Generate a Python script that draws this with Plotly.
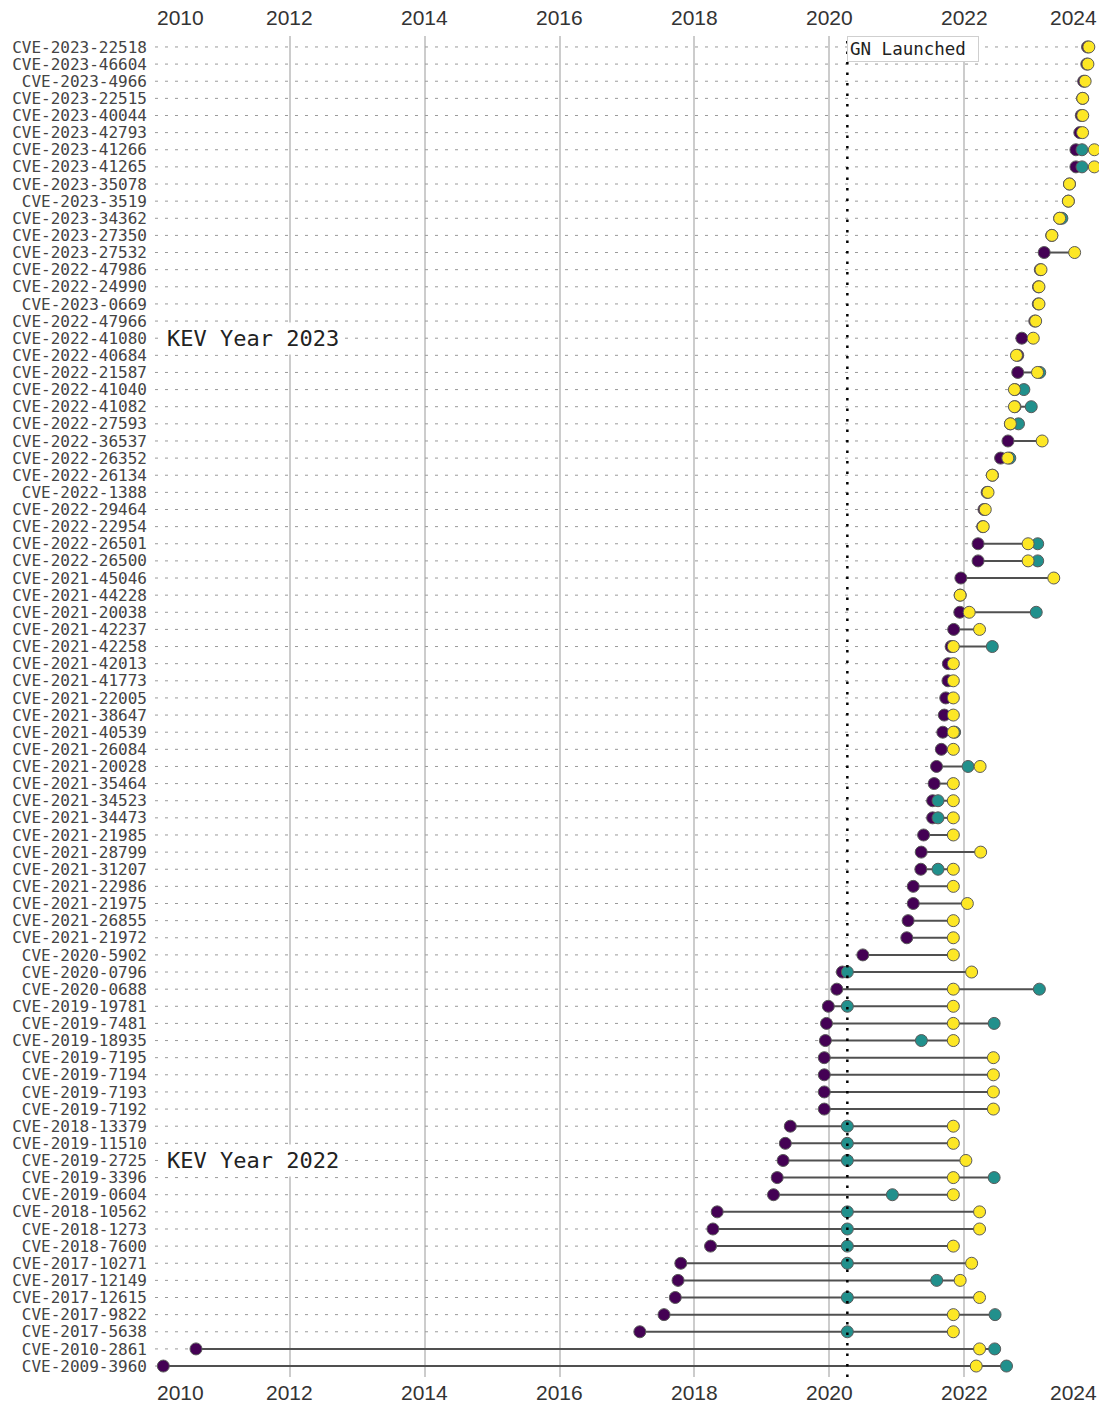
import plotly.graph_objects as go
import pandas as pd

# ---------------- data ----------------
cves = [
    "CVE-2023-22518", "CVE-2023-46604", "CVE-2023-4966", "CVE-2023-22515", "CVE-2023-40044",
    "CVE-2023-42793", "CVE-2023-41266", "CVE-2023-41265", "CVE-2023-35078", "CVE-2023-3519",
    "CVE-2023-34362", "CVE-2023-27350", "CVE-2023-27532", "CVE-2022-47986", "CVE-2022-24990",
    "CVE-2023-0669", "CVE-2022-47966", "CVE-2022-41080", "CVE-2022-40684", "CVE-2022-21587",
    "CVE-2022-41040", "CVE-2022-41082", "CVE-2022-27593", "CVE-2022-36537", "CVE-2022-26352",
    "CVE-2022-26134", "CVE-2022-1388", "CVE-2022-29464", "CVE-2022-22954", "CVE-2022-26501",
    "CVE-2022-26500", "CVE-2021-45046", "CVE-2021-44228", "CVE-2021-20038", "CVE-2021-42237",
    "CVE-2021-42258", "CVE-2021-42013", "CVE-2021-41773", "CVE-2021-22005", "CVE-2021-38647",
    "CVE-2021-40539", "CVE-2021-26084", "CVE-2021-20028", "CVE-2021-35464", "CVE-2021-34523",
    "CVE-2021-34473", "CVE-2021-21985", "CVE-2021-28799", "CVE-2021-31207", "CVE-2021-22986",
    "CVE-2021-21975", "CVE-2021-26855", "CVE-2021-21972", "CVE-2020-5902", "CVE-2020-0796",
    "CVE-2020-0688", "CVE-2019-19781", "CVE-2019-7481", "CVE-2019-18935", "CVE-2019-7195",
    "CVE-2019-7194", "CVE-2019-7193", "CVE-2019-7192", "CVE-2018-13379", "CVE-2019-11510",
    "CVE-2019-2725", "CVE-2019-3396", "CVE-2019-0604", "CVE-2018-10562", "CVE-2018-1273",
    "CVE-2018-7600", "CVE-2017-10271", "CVE-2017-12149", "CVE-2017-12615", "CVE-2017-9822",
    "CVE-2017-5638", "CVE-2010-2861", "CVE-2009-3960",
]

published = [
    "2023-10-31", "2023-10-27", "2023-10-10", "2023-10-04", "2023-09-27",
    "2023-09-19", "2023-08-29", "2023-08-29", "2023-07-25", "2023-07-19",
    "2023-06-02", "2023-04-20", "2023-03-10", "2023-02-17", "2023-02-07",
    "2023-02-06", "2023-01-18", "2022-11-09", "2022-10-18", "2022-10-18",
    "2022-10-03", "2022-10-03", "2022-09-08", "2022-08-26", "2022-07-17",
    "2022-06-03", "2022-05-05", "2022-04-18", "2022-04-11", "2022-03-17",
    "2022-03-17", "2021-12-14", "2021-12-10", "2021-12-08", "2021-11-05",
    "2021-10-22", "2021-10-07", "2021-10-05", "2021-09-23", "2021-09-15",
    "2021-09-07", "2021-08-30", "2021-08-04", "2021-07-22", "2021-07-14",
    "2021-07-14", "2021-05-26", "2021-05-13", "2021-05-11", "2021-03-31",
    "2021-03-31", "2021-03-03", "2021-02-24", "2020-07-01", "2020-03-12",
    "2020-02-11", "2019-12-27", "2019-12-17", "2019-12-11", "2019-12-05",
    "2019-12-05", "2019-12-05", "2019-12-05", "2019-06-04", "2019-05-08",
    "2019-04-26", "2019-03-25", "2019-03-05", "2018-05-04", "2018-04-11",
    "2018-03-29", "2017-10-19", "2017-10-04", "2017-09-19", "2017-07-20",
    "2017-03-11", "2010-08-11", "2010-02-15",
]

gn_tagged = [
    None, None, None, None, None,
    None, "2023-10-01", "2023-10-01", None, None,
    "2023-06-14", None, None, None, None,
    None, None, None, None, "2023-02-14",
    "2022-11-20", "2022-12-30", "2022-10-22", None, "2022-09-05",
    None, None, None, None, "2023-02-03",
    "2023-02-03", None, None, "2023-01-26", None,
    "2022-06-02", None, None, None, None,
    "2021-11-10", None, "2022-01-22", None, "2021-08-12",
    "2021-08-12", None, None, "2021-08-12", None,
    None, None, None, None, "2020-04-08",
    "2023-02-12", "2020-04-08", "2022-06-12", "2021-05-14", None,
    None, None, None, "2020-04-08", "2020-04-08",
    "2020-04-08", "2022-06-12", "2020-12-08", "2020-04-08", "2020-04-08",
    "2020-04-08", "2020-04-08", "2021-08-05", "2020-04-08", "2022-06-17",
    "2020-04-08", "2022-06-15", "2022-08-18",
]

kev_added = [
    "2023-11-07", "2023-11-02", "2023-10-18", "2023-10-05", "2023-10-05",
    "2023-10-04", "2023-12-07", "2023-12-07", "2023-07-25", "2023-07-19",
    "2023-06-02", "2023-04-21", "2023-08-22", "2023-02-21", "2023-02-10",
    "2023-02-10", "2023-01-23", "2023-01-10", "2022-10-11", "2023-02-02",
    "2022-09-30", "2022-09-30", "2022-09-08", "2023-02-27", "2022-08-25",
    "2022-06-02", "2022-05-10", "2022-04-25", "2022-04-14", "2022-12-13",
    "2022-12-13", "2023-05-01", "2021-12-10", "2022-01-28", "2022-03-25",
    "2021-11-03", "2021-11-03", "2021-11-03", "2021-11-03", "2021-11-03",
    "2021-11-03", "2021-11-03", "2022-03-28", "2021-11-03", "2021-11-03",
    "2021-11-03", "2021-11-03", "2022-03-31", "2021-11-03", "2021-11-03",
    "2022-01-18", "2021-11-03", "2021-11-03", "2021-11-03", "2022-02-10",
    "2021-11-03", "2021-11-03", "2021-11-03", "2021-11-03", "2022-06-08",
    "2022-06-08", "2022-06-08", "2022-06-08", "2021-11-03", "2021-11-03",
    "2022-01-10", "2021-11-03", "2021-11-03", "2022-03-25", "2022-03-25",
    "2021-11-03", "2022-02-10", "2021-12-10", "2022-03-25", "2021-11-03",
    "2021-11-03", "2022-03-25", "2022-03-07",
]

gn_launch = "2020-04-08"
axis_start = "2010-01-01"
axis_end = "2024-01-01"
tick_years = [2010, 2012, 2014, 2016, 2018, 2020, 2022, 2024]
year_labels = [
    ("KEV Year 2023", "CVE-2022-41080"),
    ("KEV Year 2022", "CVE-2019-2725"),
]

# ---------------- derived ----------------
df = pd.DataFrame({"cve": cves,
                   "pub": pd.to_datetime(published),
                   "gn": pd.to_datetime(gn_tagged),
                   "kev": pd.to_datetime(kev_added)})
df["lo"] = df[["pub", "gn", "kev"]].min(axis=1)
df["hi"] = df[["pub", "gn", "kev"]].max(axis=1)

def fmt(d):
    return d.strftime("%Y-%m-%d")

dot_x, dot_y, seg_x, seg_y = [], [], [], []
for _, r in df.iterrows():
    dot_x += [axis_start, fmt(r.lo), None]
    dot_y += [r.cve, r.cve, None]
    seg_x += [fmt(r.lo), fmt(r.hi), None]
    seg_y += [r.cve, r.cve, None]

PURPLE = "#440154"
TEAL = "#21908C"
YELLOW = "#FDE725"
MONO = "DejaVu Sans Mono"
SANS = "Liberation Sans, Arial, sans-serif"

fig = go.Figure()
fig.add_trace(go.Scatter(x=dot_x, y=dot_y, mode="lines",
                         line=dict(color="#9a9a9a", width=1, dash="3px,7px"),
                         hoverinfo="skip", showlegend=False))
fig.add_trace(go.Scatter(x=seg_x, y=seg_y, mode="lines",
                         line=dict(color="#505050", width=2),
                         hoverinfo="skip", showlegend=False))
marker_line = dict(color="#5a5a5a", width=1)
fig.add_trace(go.Scatter(x=df.pub, y=df.cve, mode="markers", name="Published",
                         marker=dict(color=PURPLE, size=12, line=marker_line),
                         showlegend=False))
gn_df = df.dropna(subset=["gn"])
fig.add_trace(go.Scatter(x=gn_df.gn, y=gn_df.cve, mode="markers", name="GN tag",
                         marker=dict(color=TEAL, size=12, line=marker_line),
                         showlegend=False))
fig.add_trace(go.Scatter(x=df.kev, y=df.cve, mode="markers", name="KEV added",
                         marker=dict(color=YELLOW, size=12, line=marker_line),
                         showlegend=False))

# GN launch line
fig.add_shape(type="line", xref="x", yref="paper", x0=gn_launch, x1=gn_launch,
              y0=0, y1=1, layer="above",
              line=dict(color="black", width=2.5, dash="2.5px,8px"))

annotations = []
annotations.append(dict(x=gn_launch, y=1, xref="x", yref="paper",
                        xanchor="left", yanchor="top", showarrow=False,
                        text="GN Launched&nbsp;", font=dict(family=MONO, size=17.5, color="#222"),
                        bgcolor="white", bordercolor="#cfcfcf", borderwidth=1, borderpad=2))
for txt, row in year_labels:
    annotations.append(dict(x="2010-02-15", y=row, xref="x", yref="y",
                            xanchor="left", yanchor="middle", showarrow=False,
                            text=txt, font=dict(family=MONO, size=22, color="#222"),
                            bgcolor="white", borderpad=3))
for yr in tick_years:
    anchor = "left" if yr == tick_years[0] else ("right" if yr == tick_years[-1] else "center")
    for ypos, shift in ((1, 19), (0, -15)):
        annotations.append(dict(x=f"{yr}-01-01", y=ypos, xref="x", yref="paper",
                                xanchor=anchor, yanchor="middle", yshift=shift,
                                showarrow=False, text=str(yr),
                                font=dict(family=SANS, size=21, color="#333")))

fig.update_layout(
    width=1103, height=1403,
    margin=dict(l=155, r=4, t=36, b=26),
    plot_bgcolor="white", paper_bgcolor="white",
    annotations=annotations,
    xaxis=dict(type="date", range=[axis_start, axis_end],
               tick0=axis_start, dtick="M24", showgrid=True,
               gridcolor="#cccccc", gridwidth=2, showticklabels=False,
               zeroline=False, showline=False, ticks=""),
    yaxis=dict(type="category", categoryorder="array", categoryarray=cves,
               tickmode="array", tickvals=cves, ticktext=cves,
               range=[len(cves) - 1 + 0.64, -0.64], showgrid=False,
               zeroline=False, showline=False, ticks="",
               ticklabelstandoff=7,
               tickfont=dict(family=MONO, size=16, color="#444")),
)

fig.write_html("out.html", config={"displayModeBar": False},
               post_script="document.body.style.margin='0';")
